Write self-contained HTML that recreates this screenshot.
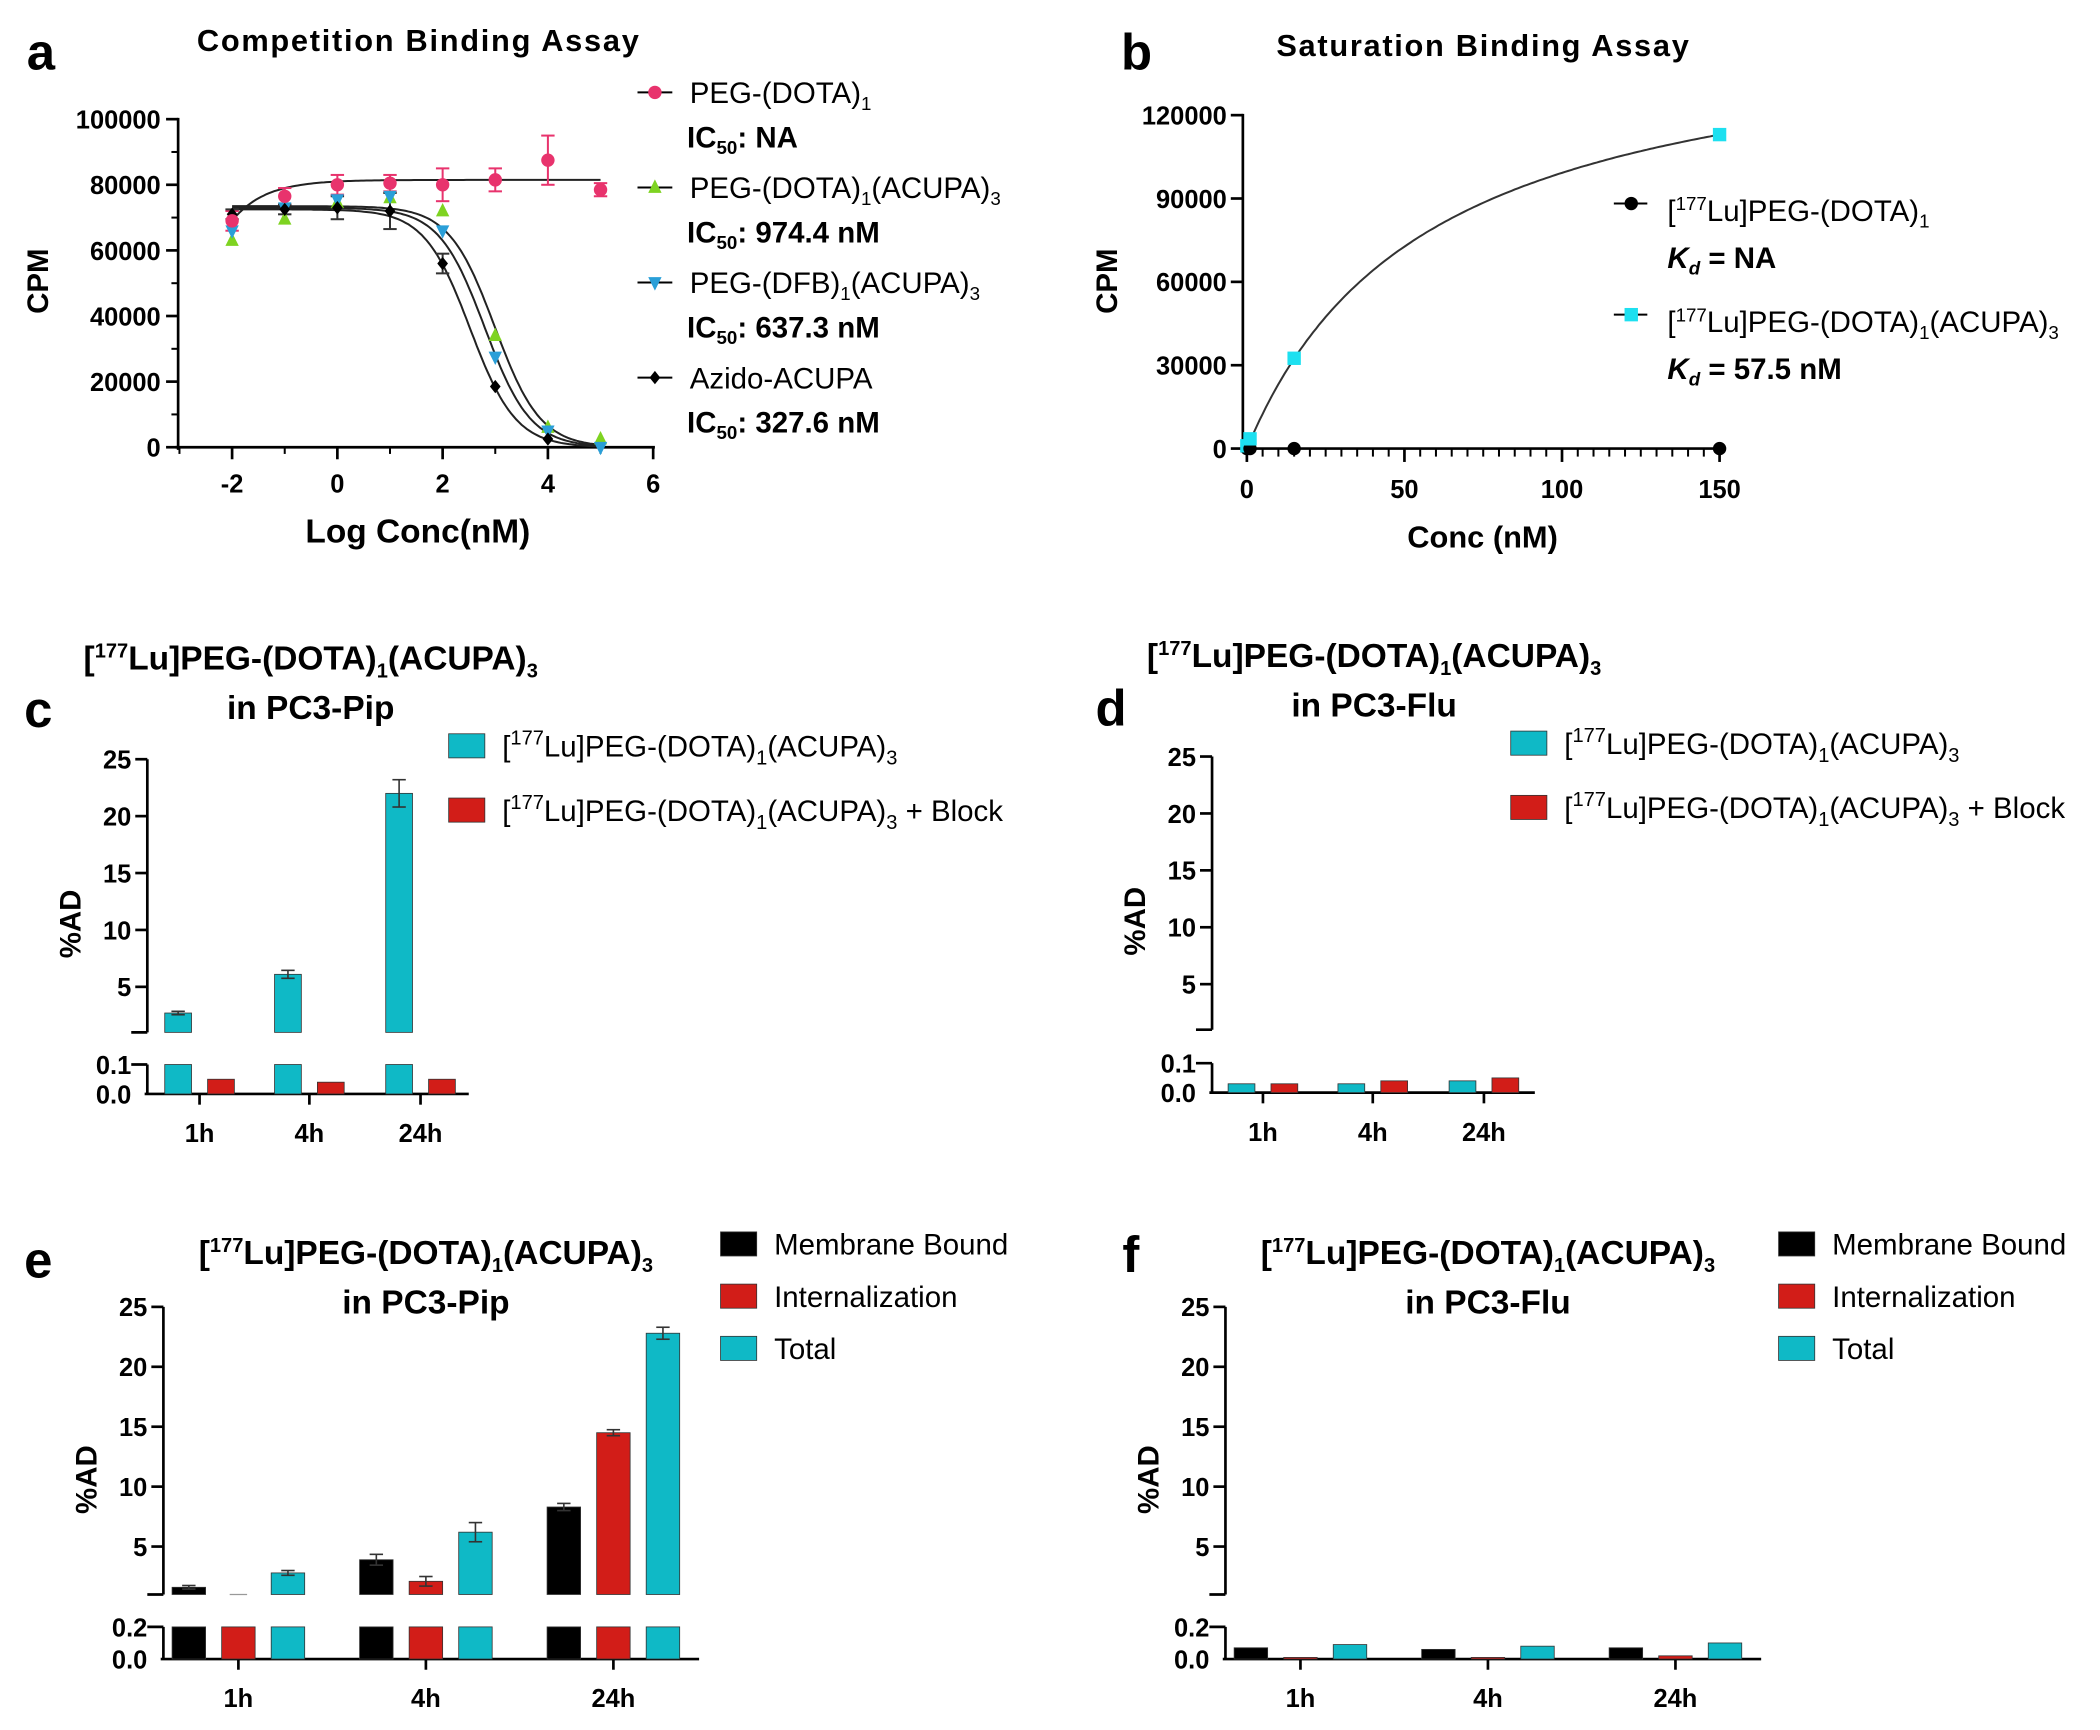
<!DOCTYPE html>
<html><head><meta charset="utf-8"><style>
html,body{margin:0;padding:0;background:#fff}
svg{display:block}
text{font-family:"Liberation Sans",Arial,sans-serif;fill:#000}
.b{font-weight:bold}
</style></head><body>
<svg id="fig" width="2100" height="1730" viewBox="0 0 1568 1292" preserveAspectRatio="none" xmlns="http://www.w3.org/2000/svg"></svg>
<script>
// ---------- data ----------
const aX=[-2,-1,0,1,2,3,4,5];
const aPink=[69000,76500,80000,80500,80000,81500,87500,78500];
const aPinkErr=[3000,2500,3000,2500,5000,3500,7500,2000];
const aGreen=[63000,69500,74500,76000,72000,34000,6000,2500];
const aBlue=[66000,73000,75500,76500,66000,27500,5000,0];
const aBlack=[71000,72500,73000,72000,56000,18500,2500,0];
const aBlackErr=[1500,1500,3500,5500,3000,0,0,0];
const aLogIC=[2.99,2.80,2.52];
const aYTicks=[0,20000,40000,60000,80000,100000];
const aXTicks=[-2,0,2,4,6];
const bX=[0,1,15,150];
const bCyan=[1000,3500,32500,113000];
const bBlack=[0,0,0,0];
const bKd=57.5;
const bBmax=156300;
const bYTicks=[0,30000,60000,90000,120000];
const bXTicks=[0,50,100,150];
const timeLabels=['1h','4h','24h'];
const cCyan=[2.7,6.1,22.0];
const cCyanErr=[0.15,0.35,1.2];
const cRed=[0.05,0.04,0.05];
const dCyan=[0.03,0.03,0.04];
const dRed=[0.03,0.04,0.05];
const eBlack=[1.6,3.9,8.3];
const eBlackErr=[0.15,0.45,0.3];
const eRed=[0.5,2.1,14.5];
const eRedErr=[0,0.4,0.25];
const eCyan=[2.8,6.2,22.8];
const eCyanErr=[0.2,0.8,0.5];
const fBlack=[0.07,0.06,0.07];
const fRed=[0.01,0.01,0.02];
const fCyan=[0.09,0.08,0.10];
const upperTicks=[5,10,15,20,25];

const NS='http://www.w3.org/2000/svg';
const svg=document.getElementById('fig');
function el(tag,attrs,parent){const e=document.createElementNS(NS,tag);for(const k in attrs)e.setAttribute(k,attrs[k]);(parent||svg).appendChild(e);return e;}
function txt(x,y,html,attrs,parent){const t=el('text',Object.assign({x:x,y:y},attrs||{}),parent);t.innerHTML=html;return t;}
function line(x1,y1,x2,y2,w,c,parent){return el('line',{x1,y1,x2,y2,stroke:c||'#000','stroke-width':w||2},parent);}

// ---------- Panel a ----------
const ga=el('g',{});


const ax=v=>134+(v+3)*39.3, ay=v=>334-v*0.00245;
txt(20,52,'a',{class:'b','font-size':38},ga);
txt(312,38,'Competition Binding Assay',{class:'b','font-size':23,'text-anchor':'middle',textLength:330},ga);
line(133,88,133,336,2,'#000',ga);line(131,334,489,334,2,'#000',ga);
aYTicks.forEach(v=>{line(124,ay(v),133,ay(v),2,'#000',ga);txt(120,ay(v)+7,v,{class:'b','font-size':19,'text-anchor':'end'},ga);});
for(let v=10000;v<100000;v+=20000)line(128,ay(v),133,ay(v),1.5,'#000',ga);
aXTicks.forEach(v=>{line(ax(v),334,ax(v),343,2,'#000',ga);txt(ax(v),368,v,{class:'b','font-size':19,'text-anchor':'middle'},ga);});
for(let v=-3;v<=5;v+=2)line(ax(v),334,ax(v),339,1.5,'#000',ga);
const yl=txt(0,0,'CPM',{class:'b','font-size':22,'text-anchor':'middle',transform:'translate(36,210) rotate(-90)'},ga);

txt(312,405,'Log Conc(nM)',{class:'b','font-size':25,'text-anchor':'middle'},ga);
function sigPath(top,lic){let d='';for(let x=-2;x<=5.001;x+=0.05){const y=top/(1+Math.pow(10,x-lic));d+=(d?'L':'M')+ax(x).toFixed(1)+','+ay(y).toFixed(1);}return d;}
[73500,73000,72500].forEach((t,i)=>{const p=el('path',{d:sigPath(t,aLogIC[i]),fill:'none',stroke:'#222','stroke-width':1.5},ga);});
(function(){let d='';for(let x=-2;x<=5.001;x+=0.05){const y=81500-12500*Math.exp(-(x+2)*1.6);d+=(d?'L':'M')+ax(x).toFixed(1)+','+ay(y).toFixed(1);}el('path',{d,fill:'none',stroke:'#222','stroke-width':1.5},ga);})();
aX.forEach((x,i)=>{const X=ax(x);[[aPink,aPinkErr,'#e8336d'],[aBlack,aBlackErr,'#333']].forEach(([s,e,c])=>{if(e[i]>0){line(X,ay(s[i]-e[i]),X,ay(s[i]+e[i]),1.5,c,ga);line(X-5,ay(s[i]+e[i]),X+5,ay(s[i]+e[i]),1.5,c,ga);line(X-5,ay(s[i]-e[i]),X+5,ay(s[i]-e[i]),1.5,c,ga);}});});
aX.forEach((x,i)=>{const X=ax(x);
 let m=el('polygon',{points:`${X},${ay(aGreen[i])-6} ${X-5},${ay(aGreen[i])+4} ${X+5},${ay(aGreen[i])+4}`,fill:'#7ed321'},ga);
 m=el('polygon',{points:`${X},${ay(aBlue[i])+6} ${X-5},${ay(aBlue[i])-4} ${X+5},${ay(aBlue[i])-4}`,fill:'#2a9fd8'},ga);
 if(x<=4){m=el('polygon',{points:`${X},${ay(aBlack[i])-5} ${X-4},${ay(aBlack[i])} ${X},${ay(aBlack[i])+5} ${X+4},${ay(aBlack[i])}`,fill:'#000'},ga);}
 m=el('circle',{cx:X,cy:ay(aPink[i]),r:5,fill:'#e8336d'},ga);
});
const legA=[['PEG-(DOTA)<tspan font-size="14" dy="5">1</tspan>','IC<tspan font-size="14" dy="5">50</tspan><tspan dy="-5">: NA</tspan>','#e8336d','c'],
['PEG-(DOTA)<tspan font-size="14" dy="5">1</tspan><tspan dy="-5">(ACUPA)</tspan><tspan font-size="14" dy="5">3</tspan>','IC<tspan font-size="14" dy="5">50</tspan><tspan dy="-5">: 974.4 nM</tspan>','#7ed321','t'],
['PEG-(DFB)<tspan font-size="14" dy="5">1</tspan><tspan dy="-5">(ACUPA)</tspan><tspan font-size="14" dy="5">3</tspan>','IC<tspan font-size="14" dy="5">50</tspan><tspan dy="-5">: 637.3 nM</tspan>','#2a9fd8','v'],
['Azido-ACUPA','IC<tspan font-size="14" dy="5">50</tspan><tspan dy="-5">: 327.6 nM</tspan>','#000','d']];
legA.forEach((L,i)=>{const y=69+i*71;const g=el('g',{},ga);
 line(476,y,502,y,1.5,'#000',g);
 if(L[3]=='c')el('circle',{cx:489,cy:y,r:5,fill:L[2]},g);
 if(L[3]=='t')el('polygon',{points:`489,${y-6} 484,${y+4} 494,${y+4}`,fill:L[2]},g);
 if(L[3]=='v')el('polygon',{points:`489,${y+6} 484,${y-4} 494,${y-4}`,fill:L[2]},g);
 if(L[3]=='d')el('polygon',{points:`489,${y-5} 485,${y} 489,${y+5} 493,${y}`,fill:L[2]},g);
 txt(515,y+8,L[0],{'font-size':22},g);txt(513,y+41,L[1],{class:'b','font-size':22},g);});

// ---------- Panel b ----------
const gb=el('g',{});


const bx=v=>931+v*2.353, by=v=>335-v*0.002075;
txt(837,52,'b',{class:'b','font-size':38},gb);
txt(1107,42,'Saturation Binding Assay',{class:'b','font-size':23,'text-anchor':'middle',textLength:308},gb);
line(928,85,928,337,2,'#000',gb);line(926,335,1286,335,2,'#000',gb);
bYTicks.forEach(v=>{line(919,by(v),928,by(v),2,'#000',gb);txt(916,by(v)+7,v,{class:'b','font-size':19,'text-anchor':'end'},gb);});
for(let v=0;v<=150;v+=5)line(bx(v),335,bx(v),v%50==0?345:341,v%50==0?2:1.5,'#000',gb);
bXTicks.forEach(v=>txt(bx(v),372,v,{class:'b','font-size':19,'text-anchor':'middle'},gb));
txt(0,0,'CPM',{class:'b','font-size':22,'text-anchor':'middle',transform:'translate(834,210) rotate(-90)'},gb);
txt(1107,409,'Conc (nM)',{class:'b','font-size':23,'text-anchor':'middle'},gb);
(function(){let d='';for(let x=0;x<=150.01;x+=1){d+=(d?'L':'M')+bx(x).toFixed(1)+','+by(bBmax*x/(bKd+x)).toFixed(1);}el('path',{d,fill:'none',stroke:'#333','stroke-width':1.5},gb);})();
bX.forEach((x,i)=>{let m=el('circle',{cx:bx(x),cy:by(bBlack[i]),r:5,fill:'#000'},gb);
 m=el('rect',{x:bx(x)-5,y:by(bCyan[i])-5,width:10,height:10,fill:'#1de0f0'},gb);});
[[152,'[<tspan font-size="14" dy="-8">177</tspan><tspan dy="8">Lu]PEG-(DOTA)</tspan><tspan font-size="14" dy="5">1</tspan>','<tspan font-style="italic">K</tspan><tspan font-style="italic" font-size="14" dy="5">d</tspan><tspan dy="-5"> = NA</tspan>','c'],
 [235,'[<tspan font-size="14" dy="-8">177</tspan><tspan dy="8">Lu]PEG-(DOTA)</tspan><tspan font-size="14" dy="5">1</tspan><tspan dy="-5">(ACUPA)</tspan><tspan font-size="14" dy="5">3</tspan>','<tspan font-style="italic">K</tspan><tspan font-style="italic" font-size="14" dy="5">d</tspan><tspan dy="-5"> = 57.5 nM</tspan>','s']].forEach(L=>{
 const y=L[0];const g=el('g',{},gb);
 line(1205,y,1230,y,1.5,'#000',g);
 if(L[3]=='c')el('circle',{cx:1218,cy:y,r:5,fill:'#000'},g);else el('rect',{x:1213,y:y-5,width:10,height:10,fill:'#1de0f0'},g);
 txt(1245,y+13,L[1],{'font-size':22},g);txt(1245,y+48,L[2],{class:'b','font-size':22},g);});

// ---------- bar panels ----------
const CY='#0fb9c6', RD='#d21d18', BK='#000';
function barPanel(cfg){
 const g=el('g',{});
 
 
 const uy=v=>cfg.u25+(25-v)*cfg.uk;
 const ly=v=>cfg.l0-v*cfg.lk;
 const ubot=uy(1);
 line(cfg.ax,cfg.u25,cfg.ax,ubot,2,'#000',g);line(cfg.ax-12,ubot,cfg.ax,ubot,2,'#000',g);
 upperTicks.forEach(v=>{line(cfg.ax-9,uy(v),cfg.ax,uy(v),2,'#000',g);txt(cfg.ax-12,uy(v)+7,v,{class:'b','font-size':19,'text-anchor':'end'},g);});
 const ltop=ly(cfg.lmax);
 line(cfg.ax,ltop,cfg.ax,cfg.l0,2,'#000',g);line(cfg.ax-12,ltop,cfg.ax,ltop,2,'#000',g);
 line(cfg.ax-2,cfg.l0,cfg.axEnd,cfg.l0,2,'#000',g);
 txt(cfg.ax-12,ltop+7,cfg.lmax.toFixed(1),{class:'b','font-size':19,'text-anchor':'end'},g);
 txt(cfg.ax-12,cfg.l0+7,'0.0',{class:'b','font-size':19,'text-anchor':'end'},g);
 txt(0,0,'%AD',{class:'b','font-size':22,'text-anchor':'middle',transform:`translate(${cfg.ax-50},${cfg.ylab}) rotate(-90)`},g);
 cfg.cats.forEach((cx,i)=>{line(cx,cfg.l0,cx,cfg.l0+8,2,'#000',g);txt(cx,cfg.l0+36,timeLabels[i],{class:'b','font-size':19,'text-anchor':'middle'},g);
  cfg.series.forEach((s,j)=>{const v=s.vals[i];const x=cx+s.off-cfg.bw/2;
   const hv=Math.min(v,cfg.lmax);
   const r1=el('rect',{x:x,y:ly(hv),width:cfg.bw,height:cfg.l0-ly(hv),fill:s.c,stroke:'#333','stroke-width':0.6},g);
   
   if(v>1){const r2=el('rect',{x:x,y:uy(v),width:cfg.bw,height:ubot-uy(v),fill:s.c,stroke:'#333','stroke-width':0.6},g);
    
    const e=s.err?s.err[i]:0;if(e>0){const X=x+cfg.bw/2;line(X,uy(v-e),X,uy(v+e),1.2,'#333',g);line(X-5,uy(v+e),X+5,uy(v+e),1.2,'#333',g);line(X-5,uy(v-e),X+5,uy(v-e),1.2,'#333',g);}}
   else if(v>cfg.lmax){line(x+6,ubot,x+cfg.bw-6,ubot,1,'#999',g);}
  });});
 return g;
}
const sup='<tspan font-size="15" dy="-9">177</tspan><tspan dy="9">';
function title2(x,y,name,fs,tl){txt(x,y,'['+sup+'Lu]PEG-(DOTA)</tspan><tspan font-size="15" dy="6">1</tspan><tspan dy="-6">(ACUPA)</tspan><tspan font-size="15" dy="6">3</tspan>',{class:'b','font-size':fs,'text-anchor':'middle'});txt(x,y+37,name,{class:'b','font-size':fs,'text-anchor':'middle'});}
function legLine(x,y,c,label,name){const g=el('g',{});el('rect',{x:x,y:y-9,width:27,height:18,fill:c,stroke:'#333','stroke-width':0.6},g);txt(x+40,y+8,label,{'font-size':22},g);}
const legBar='['+sup+'Lu]PEG-(DOTA)</tspan><tspan font-size="15" dy="6">1</tspan><tspan dy="-6">(ACUPA)</tspan><tspan font-size="15" dy="6">3</tspan>';

txt(18,543,'c',{class:'b','font-size':38});
title2(232,500,'in PC3-Pip',25);
barPanel({name:'panel-c-bar-chart',ax:110,axEnd:350,u25:567,uk:8.5,l0:817,lk:220,lmax:0.1,bw:20,ylab:690,cats:[149,231,314],
 series:[{n:'cyan',vals:cCyan,err:cCyanErr,c:CY,off:-16},{n:'red',vals:cRed,c:RD,off:16}]});
legLine(335,557,CY,legBar,'legend-entry-c-plain');
legLine(335,605,RD,legBar+'<tspan dy="-6"> + Block</tspan>','legend-entry-c-block');
txt(818,542,'d',{class:'b','font-size':38});
title2(1026,498,'in PC3-Flu',25);
barPanel({name:'panel-d-bar-chart',ax:905,axEnd:1146,u25:565,uk:8.5,l0:816,lk:220,lmax:0.1,bw:20,ylab:688,cats:[943,1025,1108],
 series:[{n:'cyan',vals:dCyan,c:CY,off:-16},{n:'red',vals:dRed,c:RD,off:16}]});
legLine(1128,555,CY,legBar,'legend-entry-d-plain');
legLine(1128,603,RD,legBar+'<tspan dy="-6"> + Block</tspan>','legend-entry-d-block');
txt(18,954,'e',{class:'b','font-size':38});
title2(318,944,'in PC3-Pip',25);
barPanel({name:'panel-e-bar-chart',ax:122,axEnd:522,u25:976,uk:8.95,l0:1239,lk:120,lmax:0.2,bw:25,ylab:1105,cats:[178,318,458],
 series:[{n:'black',vals:eBlack,err:eBlackErr,c:BK,off:-37},{n:'red',vals:eRed,err:eRedErr,c:RD,off:0},{n:'cyan',vals:eCyan,err:eCyanErr,c:CY,off:37}]});
legLine(538,929,BK,'Membrane Bound','legend-membrane-e');
legLine(538,968,RD,'Internalization','legend-internal-e');
legLine(538,1007,CY,'Total','legend-total-e');
txt(838,950,'f',{class:'b','font-size':38});
title2(1111,944,'in PC3-Flu',25);
barPanel({name:'panel-f-bar-chart',ax:915,axEnd:1315,u25:976,uk:8.95,l0:1239,lk:120,lmax:0.2,bw:25,ylab:1105,cats:[971,1111,1251],
 series:[{n:'black',vals:fBlack,c:BK,off:-37},{n:'red',vals:fRed,c:RD,off:0},{n:'cyan',vals:fCyan,c:CY,off:37}]});
legLine(1328,929,BK,'Membrane Bound','legend-membrane-f');
legLine(1328,968,RD,'Internalization','legend-internal-f');
legLine(1328,1007,CY,'Total','legend-total-f');
</script>
</body></html>
